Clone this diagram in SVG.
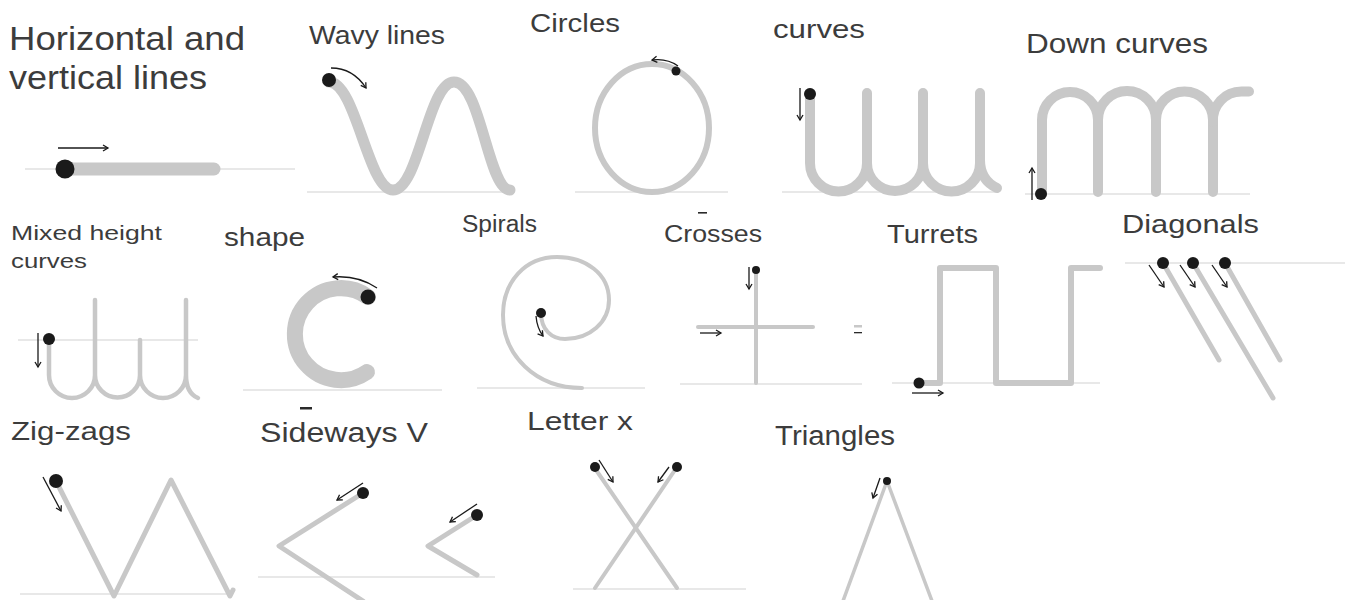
<svg xmlns="http://www.w3.org/2000/svg" width="1345" height="600" viewBox="0 0 1345 600">
<defs>
<marker id="ah" markerWidth="8" markerHeight="8" refX="6" refY="4" orient="auto" markerUnits="userSpaceOnUse">
<path d="M1,1 L6,4 L1,7" fill="none" stroke="#1a1a1a" stroke-width="1.3"/>
</marker>
</defs>
<style>
text{font-family:"Liberation Sans",Arial,sans-serif;fill:#3c3c3c}
.base{stroke:#e0e0e0;stroke-width:1.5;fill:none}
.g{stroke:#c8c8c8;fill:none;stroke-linecap:round;stroke-linejoin:round}
.dot{fill:#1a1a1a}
.arr{stroke:#1a1a1a;stroke-width:1.3;fill:none;marker-end:url(#ah)}
.frag{fill:#2a2a2a}
</style>
<rect width="1345" height="600" fill="#fff"/>

<g id="horizontal">
<text x="9" y="50" font-size="33" textLength="236" lengthAdjust="spacingAndGlyphs">Horizontal and</text>
<text x="9" y="89" font-size="33" textLength="198" lengthAdjust="spacingAndGlyphs">vertical lines</text>
<line class="base" x1="25" y1="169" x2="295" y2="169"/>
<line class="g" x1="65" y1="169" x2="214" y2="169" stroke-width="13"/>
<circle class="dot" cx="65" cy="169" r="9.5"/>
<line class="arr" x1="58" y1="148" x2="108" y2="148"/>
</g>

<g id="wavy">
<text x="309" y="44" font-size="25" textLength="136" lengthAdjust="spacingAndGlyphs">Wavy lines</text>
<line class="base" x1="307" y1="192" x2="515" y2="192"/>
<path class="g" stroke-width="11" d="M329,82 C356,82 368,190 393,190 C419,190 428,82 454,82 C481,82 488,190 510,190"/>
<circle class="dot" cx="329" cy="80" r="7"/>
<path class="arr" d="M331,68 Q353,68 366,88"/>
</g>

<g id="circles">
<text x="530" y="32" font-size="25" textLength="90" lengthAdjust="spacingAndGlyphs">Circles</text>
<line class="base" x1="575" y1="192" x2="728" y2="192"/>
<ellipse class="g" cx="652" cy="128" rx="57" ry="64" stroke-width="6"/>
<circle class="dot" cx="676" cy="71" r="4.5"/>
<path class="arr" d="M678,66 Q667,58 652,60"/>
</g>

<g id="curves">
<text x="773" y="38" font-size="25" textLength="92" lengthAdjust="spacingAndGlyphs">curves</text>
<line class="base" x1="782" y1="192" x2="997" y2="192"/>
<path class="g" stroke-width="10" d="M810,93 V163 A28.5,28.5 0 0 0 867,163 V93 M867,163 A28,28 0 0 0 923,163 V93 M923,163 A28.5,28.5 0 0 0 980,163 V93"/>
<path class="g" stroke-width="10" stroke-linecap="butt" d="M980,160 Q980,180 997,188"/>
<circle class="dot" cx="810" cy="94" r="6"/>
<line class="arr" x1="800" y1="88" x2="800" y2="120"/>
</g>

<g id="down-curves">
<text x="1026" y="53" font-size="27" textLength="182" lengthAdjust="spacingAndGlyphs">Down curves</text>
<line class="base" x1="1025" y1="194" x2="1250" y2="194"/>
<path class="g" stroke-width="10" d="M1042,194 V120 A28,28 0 0 1 1098,120 V192 M1098,120 A29,29 0 0 1 1156,120 V192 M1156,120 A28.5,28.5 0 0 1 1213,120 V192"/>
<path class="g" stroke-width="10" stroke-linecap="butt" d="M1213,122 A28.5,28.5 0 0 1 1241.5,91.5 H1249"/>
<circle class="dot" cx="1041" cy="194" r="6"/>
<line class="arr" x1="1032" y1="200" x2="1032" y2="168"/>
</g>

<g id="mixed-height">
<text x="11" y="240" font-size="21" textLength="151" lengthAdjust="spacingAndGlyphs">Mixed height</text>
<text x="11" y="268" font-size="21" textLength="76" lengthAdjust="spacingAndGlyphs">curves</text>
<line class="base" x1="18" y1="340" x2="198" y2="340" stroke-width="1"/>
<path class="g" stroke-width="4.5" d="M49,340 V375 A23,23 0 0 0 95,375 V300 M95,375 A22.5,22.5 0 0 0 140,375 V340 M140,375 A23,23 0 0 0 186,375 V300 M186,375 Q186,393 198,398"/>
<circle class="dot" cx="49" cy="339" r="6"/>
<line class="arr" x1="38" y1="333" x2="38" y2="367"/>
</g>

<g id="c-shape">
<text x="224" y="246" font-size="25" textLength="81" lengthAdjust="spacingAndGlyphs">shape</text>
<line class="base" x1="243" y1="390" x2="442" y2="390"/>
<path class="g" stroke-width="16" d="M368,297 A46,46 0 1 0 367,372" stroke-linecap="butt"/>
<circle class="dot" cx="368" cy="297" r="7.5"/>
<path class="arr" d="M377,288 Q358,275 333,277"/>
<rect class="frag" x="300" y="407" width="12" height="2.5"/>
</g>

<g id="spirals">
<text x="462" y="232" font-size="23" textLength="75" lengthAdjust="spacingAndGlyphs">Spirals</text>
<line class="base" x1="477" y1="388" x2="645" y2="388"/>
<path class="g" stroke-width="4" d="M541,313 C541,330 552,339 565,339 C590,339 609,322 609,300 C609,274 586,257 557,257 C525,257 503,282 503,315 C503,355 535,388 582,388" stroke-linecap="butt"/>
<circle class="dot" cx="541" cy="313" r="5"/>
<path class="arr" d="M536,316 Q537,328 543,336"/>
</g>

<g id="crosses">
<text x="664" y="242" font-size="24" textLength="98" lengthAdjust="spacingAndGlyphs">Crosses</text>
<rect class="frag" x="698" y="212" width="9" height="1.6"/>
<line class="base" x1="680" y1="384" x2="862" y2="384"/>
<line class="g" x1="756" y1="270" x2="756" y2="383" stroke-width="4" stroke-linecap="butt"/>
<line class="g" x1="698" y1="327" x2="813" y2="327" stroke-width="4" stroke-linecap="butt"/>
<circle class="dot" cx="756" cy="270" r="4"/>
<line class="arr" x1="749" y1="267" x2="749" y2="289"/>
<line class="arr" x1="700" y1="333" x2="721" y2="333"/>
<rect x="854" y="325" width="8" height="2.5" fill="#c8c8c8"/>
<rect class="frag" x="854" y="332" width="8" height="1.3"/>
</g>

<g id="turrets">
<text x="887" y="243" font-size="25" textLength="91" lengthAdjust="spacingAndGlyphs">Turrets</text>
<line class="base" x1="892" y1="383" x2="1100" y2="383"/>
<path class="g" stroke-width="6" stroke-linecap="butt" stroke-linejoin="miter" d="M919,383 H940 V268 H996 V383 H1071 V268 H1100"/>
<circle class="dot" cx="919" cy="383" r="5.5"/>
<line class="arr" x1="912" y1="393" x2="943" y2="393"/>
</g>

<g id="diagonals">
<text x="1122" y="233" font-size="26" textLength="137" lengthAdjust="spacingAndGlyphs">Diagonals</text>
<line class="base" x1="1125" y1="263" x2="1345" y2="263"/>
<line class="g" x1="1163" y1="263" x2="1219" y2="360" stroke-width="5"/>
<line class="g" x1="1193" y1="263" x2="1273" y2="398" stroke-width="5"/>
<line class="g" x1="1225" y1="263" x2="1280" y2="360" stroke-width="5"/>
<circle class="dot" cx="1163" cy="263" r="6"/>
<circle class="dot" cx="1193" cy="263" r="6"/>
<circle class="dot" cx="1225" cy="263" r="6"/>
<line class="arr" x1="1149" y1="265" x2="1164" y2="287"/>
<line class="arr" x1="1180" y1="265" x2="1195" y2="287"/>
<line class="arr" x1="1212" y1="265" x2="1227" y2="287"/>
</g>

<g id="zig-zags">
<text x="11" y="440" font-size="26" textLength="120" lengthAdjust="spacingAndGlyphs">Zig-zags</text>
<line class="base" x1="20" y1="594" x2="232" y2="594"/>
<path class="g" stroke-width="5" stroke-linejoin="miter" stroke-linecap="butt" d="M56,481 L114,596 L171,480 L230,596 L233,590"/>
<circle class="dot" cx="56" cy="481" r="7"/>
<line class="arr" x1="43" y1="477" x2="61" y2="511"/>
</g>

<g id="sideways-v">
<text x="260" y="442" font-size="27" textLength="168" lengthAdjust="spacingAndGlyphs">Sideways V</text>
<line class="base" x1="258" y1="577" x2="495" y2="577"/>
<path class="g" stroke-width="5" stroke-linejoin="miter" stroke-linecap="butt" d="M363,493 L279,546 L363,601"/>
<path class="g" stroke-width="5" stroke-linejoin="miter" stroke-linecap="butt" d="M477,515 L428,546 L477,575"/>
<circle class="dot" cx="363" cy="493" r="6"/>
<circle class="dot" cx="477" cy="515" r="6"/>
<line class="arr" x1="363" y1="483" x2="337" y2="500"/>
<line class="arr" x1="477" y1="504" x2="450" y2="522"/>
</g>

<g id="letter-x">
<text x="527" y="430" font-size="25" textLength="106" lengthAdjust="spacingAndGlyphs">Letter x</text>
<line class="base" x1="573" y1="589" x2="746" y2="589"/>
<line class="g" x1="594" y1="467" x2="677" y2="588" stroke-width="4" stroke-linecap="butt"/>
<line class="g" x1="677" y1="467" x2="595" y2="588" stroke-width="4" stroke-linecap="butt"/>
<circle class="dot" cx="595" cy="467" r="5"/>
<circle class="dot" cx="677" cy="467" r="5"/>
<line class="arr" x1="599" y1="460" x2="613" y2="482"/>
<line class="arr" x1="669" y1="467" x2="658" y2="482"/>
</g>

<g id="triangles">
<text x="775" y="445" font-size="27" textLength="120" lengthAdjust="spacingAndGlyphs">Triangles</text>
<path class="g" stroke-width="3.5" stroke-linejoin="miter" stroke-linecap="butt" d="M843,601 L887,481 L932,601"/>
<circle class="dot" cx="887" cy="481" r="4"/>
<line class="arr" x1="880" y1="478" x2="873" y2="498"/>
</g>

<g id="connectors"></g>
</svg>
